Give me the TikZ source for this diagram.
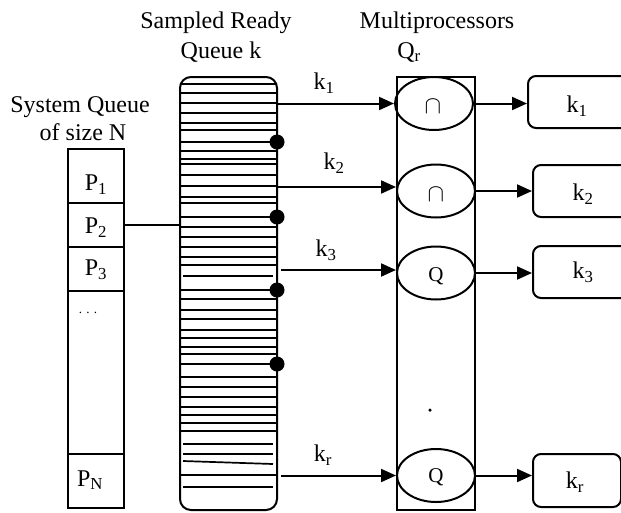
\documentclass[tikz,border=0pt]{standalone}
\usepackage{fontspec}
\setmainfont{Liberation Serif}
\usetikzlibrary{arrows.meta,shapes.geometric}
\begin{document}
\begin{tikzpicture}[x=1pt,y=-1pt,
  lw/.style={line width=2pt},
  lbl/.style={font=\fontsize{24}{27}\selectfont, inner sep=0pt},
  qtxt/.style={font=\fontsize{21}{22}\selectfont, inner sep=0pt},
  cell/.style={draw, lw, minimum width=56pt, inner sep=0pt},
  proc/.style={draw, lw, ellipse, minimum width=78pt, minimum height=53pt, inner sep=0pt},
  outbox/.style={draw, lw, rounded corners=8pt, minimum height=52pt, inner sep=0pt},
  arr/.style={lw, -{Triangle[length=15pt,width=13pt]}},
  hl/.style={line width=1.7pt},
  blob/.style={circle, fill=black, minimum size=15pt, inner sep=0pt}
]
\clip (0,0) rectangle (621,512);
\fill[white] (0,0) rectangle (621,512);

% headings
\node[lbl] (h1) at (216,23) {Sampled Ready};
\node[lbl] (h2) at (221,52) {Queue k};
\node[lbl] (h3) at (437,23) {Multiprocessors};
\node[lbl] (h4) at (409,52) {Q\textsubscript{r}};
\node[lbl] (h5) at (80,107) {System Queue};
\node[lbl] (h6) at (83,132) {of size N};

% system queue
\node[cell, minimum height=54pt] (p1) at (96,176) {};
\node[cell, minimum height=44pt] (p2) at (96,225) {};
\node[cell, minimum height=44pt] (p3) at (96,269) {};
\node[cell, minimum height=163pt] (pd) at (96,372.5) {};
\node[cell, minimum height=54pt] (pn) at (96,481) {};
\node[lbl] (tp1) at (96,185) {P\textsubscript{1}};
\node[lbl] (tp2) at (96,228) {P\textsubscript{2}};
\node[lbl] (tp3) at (96,270) {P\textsubscript{3}};
\node[inner sep=0pt, font=\fontsize{13}{14}\selectfont] (tpd) at (88,313) {.\,\,.\,\,.};
\node[lbl] (tpn) at (90,480) {P\textsubscript{N}};

% sampled ready queue
\node[draw, lw, rounded corners=11pt, minimum width=97pt, minimum height=433pt, inner sep=0pt] (srq) at (228.5,293.5) {};
\foreach \yy in {84,93,103,113,123,130,142,151,159,164,175,186,197,203,217,227,237,247,257,265,290,299,310,319,330,338,347,354,364,377,387,397,407,415,423,431,475}
  \draw[hl] (180.5,\yy) -- (276.5,\yy);
\foreach \yy in {276,444,454,487}
  \draw[hl] (183,\yy) -- (273,\yy);
\draw[hl] (183,461) -- (273,464);

\node[blob] (b1) at (277,142) {};
\node[blob] (b2) at (277,217) {};
\node[blob] (b3) at (277,290) {};
\node[blob] (b4) at (277,364) {};

\draw[lw] (p2.east) -- (p2.east -| srq.west);

% multiprocessors
\node[draw, lw, minimum width=78pt, minimum height=433pt, inner sep=0pt] (mp) at (436,293.5) {};
\node[proc] (e1) at (434,103.5) {};
\node[proc] (e2) at (436,191) {};
\node[proc] (e3) at (436,273) {};
\node[proc] (e4) at (436,475.5) {};
\node[inner sep=0pt, font=\fontsize{24}{24}\selectfont] (c1) at (433,107) {$\cap$};
\node[inner sep=0pt, font=\fontsize{24}{24}\selectfont] (c2) at (436,195) {$\cap$};
\node[qtxt] (q3) at (436,276) {Q};
\node[qtxt] (q4) at (436,477) {Q};
\node[circle, fill=black, minimum size=3.5pt, inner sep=0pt] (md) at (430,410) {};

% input arrows
\draw[arr] (srq.east |- e1.west) -- (e1.west);
\draw[arr] (srq.east |- 0,187) coordinate (s2) -- (s2 -| e2.west);
\draw[arr] ([xshift=3pt]srq.east |- 0,270) coordinate (s3) -- (s3 -| e3.west);
\draw[arr] ([xshift=3pt]srq.east |- e4.west) -- (e4.west);
\node[lbl] (k1) at (324,83) {k\textsubscript{1}};
\node[lbl] (k2) at (334,163) {k\textsubscript{2}};
\node[lbl] (k3) at (326,250) {k\textsubscript{3}};
\node[lbl] (kr) at (323,455) {k\textsubscript{r}};

% output boxes
\node[outbox, minimum width=110pt, anchor=west] (o1) at (527,102) {};
\node[outbox, minimum width=105pt, anchor=west] (o2) at (532,191) {};
\node[outbox, minimum width=105pt, anchor=west] (o3) at (532,272) {};
\node[outbox, minimum width=88pt, minimum height=53pt, anchor=west] (o4) at (532,480.5) {};
\node[lbl] (t1) at (577,106) {k\textsubscript{1}};
\node[lbl] (t2) at (583,194) {k\textsubscript{2}};
\node[lbl] (t3) at (583,272) {k\textsubscript{3}};
\node[lbl] (t4) at (575,482) {k\textsubscript{r}};

\draw[arr] (e1.east) -- (e1.east -| o1.west);
\draw[arr] (e2.east) -- (e2.east -| o2.west);
\draw[arr] (e3.east) -- (e3.east -| o3.west);
\draw[arr] (e4.east) -- (e4.east -| o4.west);
\end{tikzpicture}
\end{document}
